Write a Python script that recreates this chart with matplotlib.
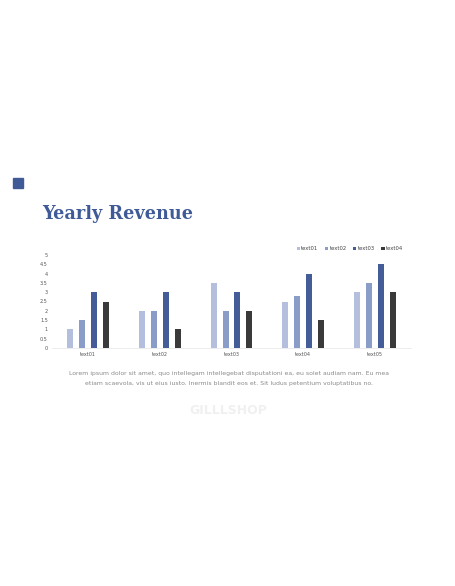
import numpy as np
import matplotlib
matplotlib.use("Agg")
import matplotlib.pyplot as plt
from matplotlib.patches import Rectangle

categories = ["text01", "text02", "text03", "text04", "text05"]
series_names = ["text01", "text02", "text03", "text04"]
s1 = [1.0, 2.0, 3.5, 2.5, 3.0]
s2 = [1.5, 2.0, 2.0, 2.8, 3.5]
s3 = [3.0, 3.0, 3.0, 4.0, 4.5]
s4 = [2.5, 1.0, 2.0, 1.5, 3.0]
yticks = [0, 0.5, 1, 1.5, 2, 2.5, 3, 3.5, 4, 4.5, 5]

colors = ["#b3bfdd", "#8a9dc9", "#445c97", "#3a3a3a"]
blue = "#3f5a96"

fig = plt.figure(figsize=(4.56, 5.86), dpi=100)
W, H = 456, 586

# small square + title
fig.patches.append(Rectangle((13 / W, 1 - 188 / H), 10 / W, 10 / H,
                             transform=fig.transFigure, color=blue))
fig.text(42 / W, 1 - 214 / H, "Yearly Revenue", fontsize=12.7, fontweight="bold",
         family="DejaVu Serif", color=blue, va="center", ha="left")

ax = fig.add_axes([52 / W, 1 - 348 / H, 359 / W, 93 / H])
x = np.arange(len(categories))
w = 1 / 12
offs = [-1.5, -0.5, 0.5, 1.5]
for i, (vals, name) in enumerate(zip([s1, s2, s3, s4], series_names)):
    ax.bar(x + offs[i] * (2 * w), vals, width=w, color=colors[i], label=name)

ax.set_xlim(-0.5, 4.5)
ax.set_ylim(0, 5)
ax.set_yticks(yticks)
ax.set_yticklabels([f"{t:g}" for t in yticks])
ax.set_xticks(x)
ax.set_xticklabels(categories)
ax.tick_params(axis="both", length=0, labelsize=3.5, colors="#555555", pad=3)
for s in ax.spines.values():
    s.set_visible(False)
ax.spines["bottom"].set_visible(True)
ax.spines["bottom"].set_color("#e6e6e6")
ax.spines["bottom"].set_linewidth(0.5)

fig.legend(loc="center", bbox_to_anchor=(350 / W, 1 - 249 / H), ncol=4,
           fontsize=3.8, frameon=False, handlelength=0.6, handleheight=0.6,
           columnspacing=1.2, handletextpad=0.3, labelcolor="#444444")

fig.text(229 / W, 1 - 374 / H,
         "Lorem ipsum dolor sit amet, quo intellegam intellegebat disputationi ea, eu solet audiam nam. Eu mea",
         fontsize=4.4, color="#8a8a8a", ha="center", va="center")
fig.text(229 / W, 1 - 383 / H,
         "etiam scaevola, vis ut eius iusto. Inermis blandit eos et. Sit ludus petentium voluptatibus no.",
         fontsize=4.4, color="#8a8a8a", ha="center", va="center")
fig.text(228 / W, 1 - 411 / H, "GILLLSHOP", fontsize=9, fontweight="bold",
         color="#f0f0f0", ha="center", va="center")

fig.savefig("out.png", dpi=100)
